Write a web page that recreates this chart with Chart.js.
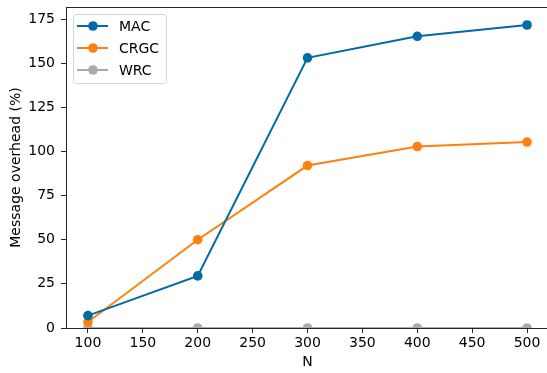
<!DOCTYPE html>
<html>
<head>
<meta charset="utf-8">
<script src="https://cdn.jsdelivr.net/npm/chart.js@4/dist/chart.umd.min.js"></script>
<style>
  html, body { margin: 0; padding: 0; background: #fff; overflow: hidden; }
  #wrap { width: 550px; height: 373px; }
</style>
</head>
<body>
<div id="wrap"><canvas id="c" width="550" height="373"></canvas></div>
<script>
// Network sizes and message overhead (%) per scheme
const nValues = [100, 200, 300, 400, 500];
const macOverhead = [7.0, 29.5, 153.0, 165.2, 171.6];
const crgcOverhead = [3.4, 50.0, 92.0, 102.8, 105.3];
const wrcOverhead = [0, 0, 0, 0, 0];
const xTicks = [100, 150, 200, 250, 300, 350, 400, 450, 500];
const yTicks = [0, 25, 50, 75, 100, 125, 150, 175];

const FONT = "'DejaVu Sans', sans-serif";
const FS = 14;

function pts(vals) { return nValues.map((n, i) => ({ x: n, y: vals[i] })); }

function series(label, vals, color) {
  return {
    label, data: pts(vals),
    borderColor: color, backgroundColor: color,
    pointBackgroundColor: color, pointBorderColor: color,
    borderWidth: 2, pointRadius: 4.8, pointHoverRadius: 4.8, pointBorderWidth: 0,
    tension: 0, clip: 0
  };
}

// Keep the plot area fixed: no extra room reserved for overhanging tick labels
function noOverhang(s) {
  s.paddingTop = 0; s.paddingBottom = 0; s.paddingLeft = 0; s.paddingRight = 0;
}

// Frame around the plot area (top and right spines)
const framePlugin = {
  id: 'frame',
  afterDraw(chart) {
    const { ctx, chartArea: a } = chart;
    ctx.save();
    ctx.strokeStyle = '#262626';
    ctx.lineWidth = 1;
    ctx.strokeRect(Math.round(a.left) + 0.5, Math.round(a.top) + 0.5,
                   Math.round(a.right - a.left), Math.round(a.bottom - a.top));
    ctx.restore();
  }
};

// Legend box in the upper-left corner of the plot area
const insetLegend = {
  id: 'insetLegend',
  afterDraw(chart) {
    const { ctx, chartArea: a } = chart;
    const sets = chart.data.datasets;
    const x0 = a.left + 7, y0 = a.top + 7;
    const w = 93, rowH = 22, h = 69;
    ctx.save();
    ctx.beginPath();
    ctx.roundRect(x0 + 0.5, y0 + 0.5, w, h, 3);
    ctx.fillStyle = 'rgba(255,255,255,0.8)';
    ctx.fill();
    ctx.strokeStyle = '#d6d6d6';
    ctx.lineWidth = 1;
    ctx.stroke();
    ctx.font = FS + 'px ' + FONT;
    ctx.textBaseline = 'middle';
    sets.forEach((ds, i) => {
      const cy = y0 + 12 + i * rowH;
      ctx.strokeStyle = ds.borderColor;
      ctx.lineWidth = 2;
      ctx.beginPath();
      ctx.moveTo(x0 + 4, cy);
      ctx.lineTo(x0 + 35, cy);
      ctx.stroke();
      ctx.fillStyle = ds.borderColor;
      ctx.beginPath();
      ctx.arc(x0 + 20, cy, 4.8, 0, Math.PI * 2);
      ctx.fill();
      ctx.fillStyle = '#000';
      ctx.fillText(ds.label, x0 + 46, cy + 1);
    });
    ctx.restore();
  }
};

new Chart(document.getElementById('c'), {
  type: 'line',
  data: {
    datasets: [
      series('MAC', macOverhead, '#006BA4'),
      series('CRGC', crgcOverhead, '#FF800E'),
      series('WRC', wrcOverhead, '#ABABAB')
    ]
  },
  options: {
    responsive: false,
    animation: false,
    layout: { autoPadding: false, padding: { top: 7, right: 1, left: 0, bottom: 0 } },
    plugins: { legend: { display: false }, tooltip: { enabled: false } },
    scales: {
      x: {
        type: 'linear', min: 80, max: 520,
        afterFit(s) { s.height = 45; noOverhang(s); },
        afterBuildTicks(s) { s.ticks = xTicks.map(v => ({ value: v })); },
        grid: { drawOnChartArea: false, drawTicks: true, tickLength: 5, tickColor: '#262626', tickWidth: 1 },
        border: { display: true, color: '#262626', width: 1 },
        ticks: { color: '#000', font: { family: FONT, size: FS }, padding: 2, maxRotation: 0, autoSkip: false },
        title: { display: true, text: 'N', color: '#000', font: { family: FONT, size: FS }, padding: { top: 0, bottom: 2 } }
      },
      y: {
        type: 'linear', min: 0, max: 181.8,
        afterFit(s) { s.width = 66; noOverhang(s); },
        afterBuildTicks(s) { s.ticks = yTicks.map(v => ({ value: v })); },
        grid: { drawOnChartArea: false, drawTicks: true, tickLength: 5, tickColor: '#262626', tickWidth: 1 },
        border: { display: true, color: '#262626', width: 1 },
        ticks: { color: '#000', font: { family: FONT, size: FS }, padding: 6, autoSkip: false },
        title: { display: true, text: 'Message overhead (%)', color: '#000', font: { family: FONT, size: FS }, padding: { top: 8, bottom: 0 } }
      }
    }
  },
  plugins: [framePlugin, insetLegend]
});
</script>
</body>
</html>
